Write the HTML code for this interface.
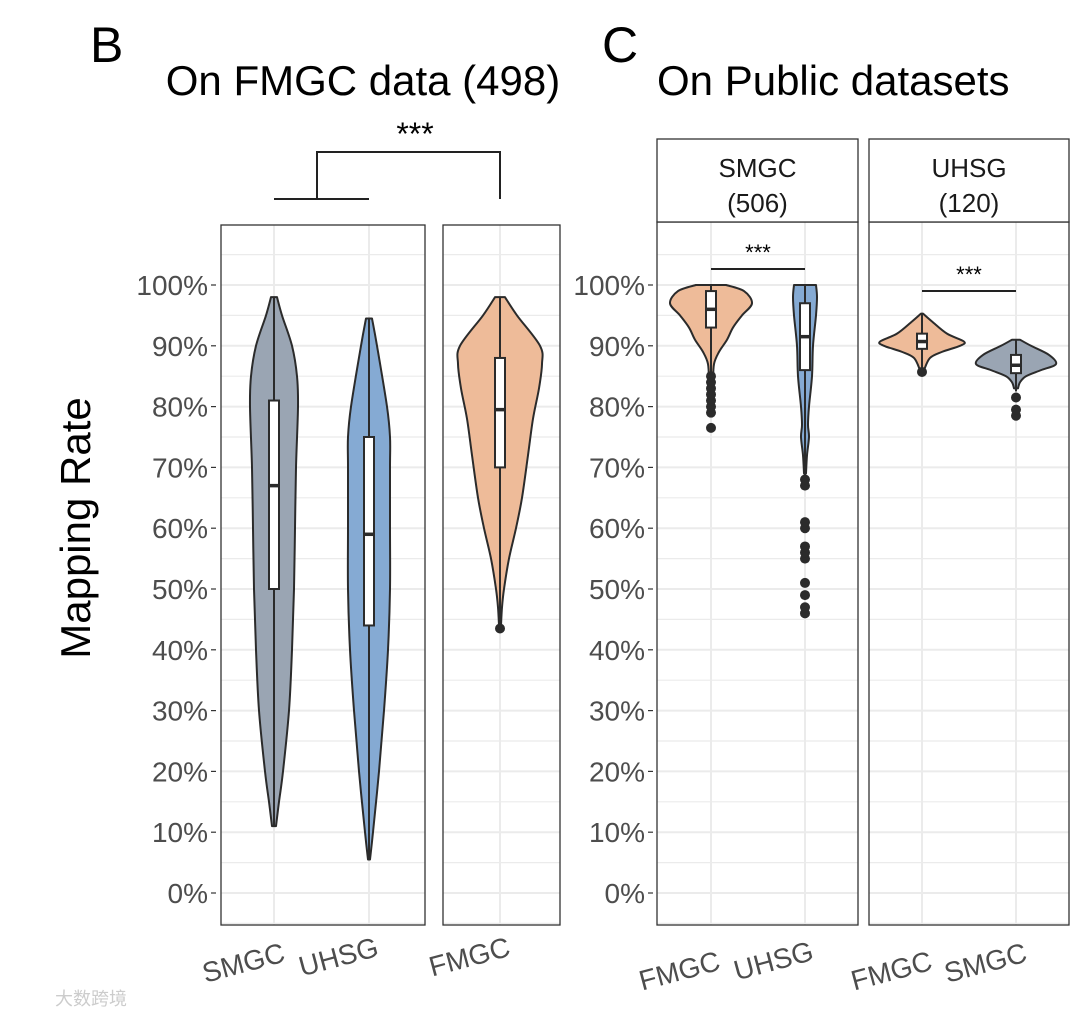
<!DOCTYPE html>
<html><head><meta charset="utf-8"><style>
body{margin:0;background:#fff}
svg text{font-family:"Liberation Sans",Arial,sans-serif}
</style></head><body>
<svg id="c" width="1080" height="1017" viewBox="0 0 1080 1017" xmlns="http://www.w3.org/2000/svg">
<g id="g"></g>
</svg>
<script>
// y-axis ticks
const tickValues=[0,10,20,30,40,50,60,70,80,90,100];
const tickLabels=["0%","10%","20%","30%","40%","50%","60%","70%","80%","90%","100%"];
// violin profiles: [value %, relative density half-width]
const bSMGC=[[98,3],[95,8],[90,18],[85,23],[80,24],[70,22],[60,21],[50,20],[40,18],[30,15],[20,9],[15,5],[11,2]];
const bUHSG=[[94.5,3],[90,8],[80,18],[75,21],[70,21],[60,21],[50,21],[40,19],[30,15],[20,10],[10,4],[5.5,1]];
const bFMGC=[[98,5],[95,17],[90,40],[87,42],[83,39],[78,33],[72,28],[65,22],[60,16],[55,9],[50,4],[47,2],[44,1]];
const cFMGC=[[100,15],[99,33],[97,41],[95,31],[93,22],[91,16],[89,8],[87,3],[84,2]];
const cUHSG=[[100,11],[98,12],[95,11],[90,8],[85,7],[80,4],[77,3],[75,4],[72,2],[69,1]];
const dFMGC=[[95.3,1],[94,10],[92,25],[90.7,42],[90,38],[89,20],[88,8],[86,2]];
const dSMGC=[[91,4],[90,15],[88.5,33],[87,40],[86,25],[85,10],[84,4],[83,2]];
// box stats: [lower whisker, q1, median, q3, upper whisker]
const bSMGCbox=[11,50,67,81,98];
const bUHSGbox=[5.5,44,59,75,94.5];
const bFMGCbox=[44,70,79.5,88,98];
const cFMGCbox=[84,93,96,99,100];
const cUHSGbox=[68,86,91.5,97,100];
const dFMGCbox=[86,89.5,90.7,92,95.3];
const dSMGCbox=[82.5,85.5,86.8,88.5,91];
// outliers
const bFMGCout=[43.5];
const cFMGCout=[76.5,79,80,81,82,83,84,85];
const cUHSGout=[46,47,49,51,55,56,57,60,61,67,68];
const dFMGCout=[85.7];
const dSMGCout=[78.5,79.5,81.5];

const NS="http://www.w3.org/2000/svg";
const G=document.getElementById('g');
function el(t,a,p){const e=document.createElementNS(NS,t);for(const k in a)e.setAttribute(k,a[k]);(p||G).appendChild(e);return e;}
const Y=v=>893-v*6.08;
const GRID="#ebebeb";

function panel(x0,x1,top,bottom,xs,name){
  const pg=el('g',{});
  
  
  for(let v=-5;v<=105;v+=5){const y=Y(v);if(y<top||y>bottom)continue;
    const l=el('line',{x1:x0,x2:x1,y1:y,y2:y,stroke:GRID,'stroke-width':v%10===0?2:1.2},pg);
    
    }
  xs.forEach(x=>{const l=el('line',{x1:x,x2:x,y1:top,y2:bottom,stroke:GRID,'stroke-width':2},pg);
    
    });
  const r=el('rect',{x:x0,y:top,width:x1-x0,height:bottom-top,fill:'none',stroke:'#333','stroke-width':1.3},pg);
  
  
}
function yaxis(xr,name){
  tickValues.forEach((v,i)=>{
    const t=el('text',{x:xr,y:Y(v)+10,'text-anchor':'end','font-size':28,fill:'#4d4d4d'});
    t.textContent=tickLabels[i];
    
    
    const l=el('line',{x1:xr+3,x2:xr+8,y1:Y(v),y2:Y(v),stroke:'#333','stroke-width':1.2});
    
    
  });
}
function smooth(pts){
  let d='M'+pts[0][0]+','+pts[0][1];
  for(let i=0;i<pts.length-1;i++){
    const p0=pts[Math.max(0,i-1)],p1=pts[i],p2=pts[i+1],p3=pts[Math.min(pts.length-1,i+2)];
    const c1=[p1[0]+(p2[0]-p0[0])/6,p1[1]+(p2[1]-p0[1])/6];
    const c2=[p2[0]-(p3[0]-p1[0])/6,p2[1]-(p3[1]-p1[1])/6];
    d+=`C${c1[0]},${c1[1]} ${c2[0]},${c2[1]} ${p2[0]},${p2[1]}`;
  }
  return d;
}
function violin(cx,prof,box,outs,fill,bw,name){
  const vg=el('g',{});
  
  
  const right=prof.map(p=>[cx+p[1],Y(p[0])]);
  const left=prof.slice().reverse().map(p=>[cx-p[1],Y(p[0])]);
  const d=smooth(right)+'L'+smooth(left).slice(1)+'Z';
  const pa=el('path',{d:d,fill:fill,stroke:'#2b2b2b','stroke-width':2,'stroke-linejoin':'round'},vg);
  
  
  const w=el('line',{x1:cx,x2:cx,y1:Y(box[0]),y2:Y(box[4]),stroke:'#2b2b2b','stroke-width':2},vg);
  
  
  const b=el('rect',{x:cx-bw,y:Y(box[3]),width:2*bw,height:Y(box[1])-Y(box[3]),fill:'#fff',stroke:'#2b2b2b','stroke-width':2},vg);
  
  
  const m=el('line',{x1:cx-bw,x2:cx+bw,y1:Y(box[2]),y2:Y(box[2]),stroke:'#2b2b2b','stroke-width':3.5},vg);
  
  
  outs.forEach(o=>{const c=el('circle',{cx:cx,cy:Y(o),r:5,fill:'#2b2b2b'},vg);
    
    });
}
function txt(x,y,s,size,name,extra){
  const t=el('text',Object.assign({x:x,y:y,'font-size':size,fill:'#000'},extra||{}));
  t.textContent=s;
  
  
  return t;
}
function xlab(x,y,s,name){
  const t=el('text',{x:x,y:y,'font-size':28,fill:'#4d4d4d','text-anchor':'middle',transform:`rotate(-15 ${x} ${y})`});
  t.textContent=s;
  
  
}

// Panel B
panel(221,425,225,925,[274,369],'panel-b-left');
panel(443,560,225,925,[500],'panel-b-right');
yaxis(208,'b-y-axis');
violin(274,bSMGC,bSMGCbox,[],'#9aa5b3',5,'b-smgc');
violin(369,bUHSG,bUHSGbox,[],'#85aad3',5,'b-uhsg');
violin(500,bFMGC,bFMGCbox,bFMGCout,'#eebb99',5,'b-fmgc');
xlab(246,972,'SMGC','b-x-label-smgc');
xlab(341,966,'UHSG','b-x-label-uhsg');
xlab(472,966,'FMGC','b-x-label-fmgc');
txt(90,62,'B',50,'panel-b-letter');
txt(363,95,'On FMGC data (498)',42,'panel-b-title',{'text-anchor':'middle'});
txt(90,528,'Mapping Rate',42,'y-axis-title',{'text-anchor':'middle',transform:'rotate(-90 90 528)'});
const br=el('path',{d:'M274,199H369M317,199V152H500V199',fill:'none',stroke:'#222','stroke-width':2});


txt(415,145,'***',32,'significance-stars-b',{'text-anchor':'middle'});

// Panel C
panel(657,858,222,925,[711,805],'panel-c-smgc');
panel(869,1069,222,925,[922,1016],'panel-c-uhsg');
[[657,858,'SMGC','(506)'],[869,1069,'UHSG','(120)']].forEach(s=>{
  const r=el('rect',{x:s[0],y:139,width:s[1]-s[0],height:83,fill:'#fff',stroke:'#333','stroke-width':1.3});
  
  
  txt((s[0]+s[1])/2,177,s[2],26,'facet-strip-label',{'text-anchor':'middle',fill:'#1a1a1a'});
  txt((s[0]+s[1])/2,212,s[3],26,'facet-strip-count',{'text-anchor':'middle',fill:'#1a1a1a'});
});
yaxis(645,'c-y-axis');
violin(711,cFMGC,cFMGCbox,cFMGCout,'#eebb99',5,'c-fmgc');
violin(805,cUHSG,cUHSGbox,cUHSGout,'#85aad3',5,'c-uhsg');
violin(922,dFMGC,dFMGCbox,dFMGCout,'#eebb99',5,'d-fmgc');
violin(1016,dSMGC,dSMGCbox,dSMGCout,'#9aa5b3',5,'d-smgc');
let l1=el('line',{x1:711,x2:805,y1:269,y2:269,stroke:'#222','stroke-width':2});


let l2=el('line',{x1:922,x2:1016,y1:291,y2:291,stroke:'#222','stroke-width':2});


txt(758,260,'***',22,'significance-stars-c1',{'text-anchor':'middle'});
txt(969,282,'***',22,'significance-stars-c2',{'text-anchor':'middle'});
xlab(682,980,'FMGC','c-x-label-fmgc');
xlab(776,970,'UHSG','c-x-label-uhsg');
xlab(894,980,'FMGC','c-x-label-fmgc2');
xlab(988,972,'SMGC','c-x-label-smgc');
txt(602,62,'C',50,'panel-c-letter');
txt(657,95,'On Public datasets',42,'panel-c-title');
txt(55,1005,'大数跨境',18,'watermark',{fill:'#ccc','font-family':'"Liberation Sans","Noto Sans CJK SC",sans-serif'});
</script>
</body></html>
